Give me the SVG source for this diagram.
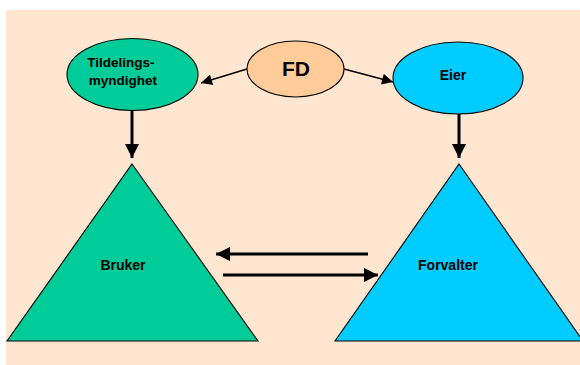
<svg xmlns="http://www.w3.org/2000/svg" width="580" height="365" viewBox="0 0 580 365">
  <defs>
    <style>
      .shape { stroke: #000; stroke-width: 1.1; }
      .green { fill: #00CC99; }
      .blue { fill: #00CCFF; }
      .peach { fill: #FFCC99; }
      .label { font-family: "Liberation Sans", Arial, sans-serif; font-weight: bold; fill: #000; text-anchor: middle; }
      .conn { stroke: #000; fill: none; }
      .thin { stroke-width: 1.6; }
      .thick { stroke-width: 3; }
    </style>
    <!-- arrowhead for the short links from FD -->
    <marker id="headSmall" viewBox="0 0 10 10" refX="10" refY="5" markerWidth="13" markerHeight="11" markerUnits="userSpaceOnUse" orient="auto">
      <path d="M0,0 L10,5 L0,10 Z" fill="#000"/>
    </marker>
    <!-- arrowhead for the heavy links -->
    <marker id="headBig" viewBox="0 0 10 10" refX="10" refY="5" markerWidth="14" markerHeight="14" markerUnits="userSpaceOnUse" orient="auto">
      <path d="M0,0 L10,5 L0,10 Z" fill="#000"/>
    </marker>
  </defs>

  <!-- page background -->
  <rect x="6" y="10" width="574" height="355" fill="#FFE6D1"/>

  <g id="connectors">
    <line class="conn thin" x1="247" y1="69" x2="201" y2="83" marker-end="url(#headSmall)"/>
    <line class="conn thin" x1="344" y1="69" x2="393" y2="82" marker-end="url(#headSmall)"/>
    <line class="conn thick" x1="132" y1="109" x2="132" y2="158" marker-end="url(#headBig)"/>
    <line class="conn thick" x1="459" y1="110" x2="459" y2="158" marker-end="url(#headBig)"/>
    <line class="conn thick" x1="368" y1="254" x2="216" y2="254" marker-end="url(#headBig)"/>
    <line class="conn thick" x1="223" y1="275" x2="378" y2="275" marker-end="url(#headBig)"/>
  </g>

  <g id="tildelingsmyndighet">
    <ellipse class="shape green" cx="132.5" cy="74.5" rx="65.5" ry="36"/>
    <text class="label" font-size="13.5" x="121" y="67">Tildelings-</text>
    <text class="label" font-size="13.5" x="123" y="85">myndighet</text>
  </g>

  <g id="fd">
    <ellipse class="shape peach" cx="295.5" cy="69" rx="48.5" ry="28"/>
    <text class="label" font-size="21" x="296" y="76">FD</text>
  </g>

  <g id="eier">
    <ellipse class="shape blue" cx="458" cy="78" rx="65" ry="36"/>
    <text class="label" font-size="14" x="453" y="80">Eier</text>
  </g>

  <g id="bruker">
    <polygon class="shape green" points="132,164 258,341 7,341"/>
    <text class="label" font-size="14" x="123" y="270">Bruker</text>
  </g>

  <g id="forvalter">
    <polygon class="shape blue" points="459,164 583,341 335,341"/>
    <text class="label" font-size="14" x="448" y="270">Forvalter</text>
  </g>
</svg>
